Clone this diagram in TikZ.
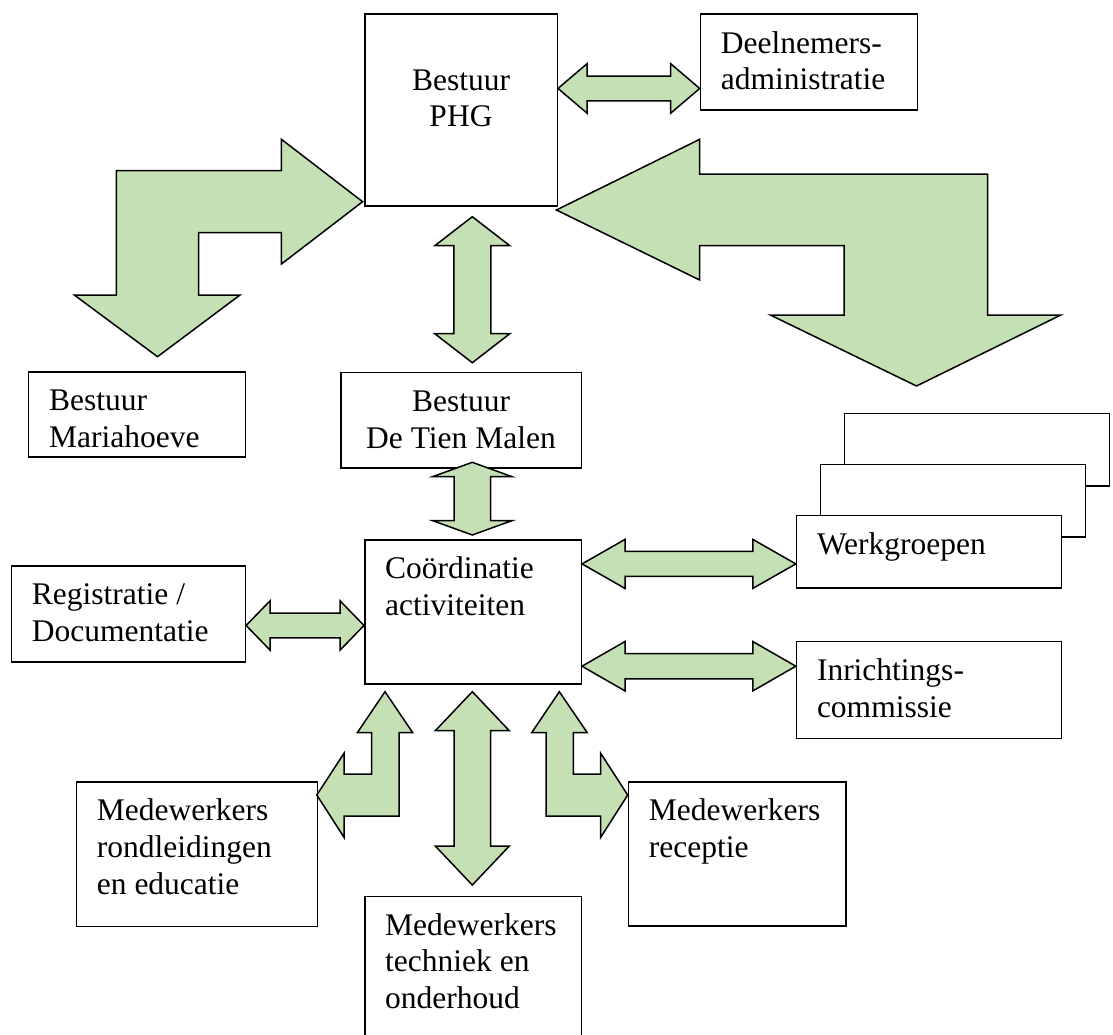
\documentclass[tikz,border=0pt]{standalone}
\usepackage{fontspec}
\setmainfont{Liberation Serif}
\usepackage{tikz}
\usetikzlibrary{calc}
\usetikzlibrary{positioning}
\definecolor{arrowgreen}{HTML}{C5E0B4}
\newcommand\lines[1]{\begin{tabular}[t]{@{}l@{}}#1\end{tabular}}
\newcommand\clines[1]{\begin{tabular}[t]{@{}c@{}}#1\end{tabular}}
% block arrow with a head at both ends: from, to, head length, head half width, shaft half width
\newcommand\dblarrow[5]{%
	\draw[blockarrow] (#1) -- ($(#1)!#3!(#2)!#4!90:(#2)$) -- ($(#1)!#3!(#2)!#5!90:(#2)$) --
		($(#2)!#3!(#1)!#5!-90:(#1)$) -- ($(#2)!#3!(#1)!#4!-90:(#1)$) -- (#2) --
		($(#2)!#3!(#1)!#4!90:(#1)$) -- ($(#2)!#3!(#1)!#5!90:(#1)$) --
		($(#1)!#3!(#2)!#5!-90:(#2)$) -- ($(#1)!#3!(#2)!#4!-90:(#2)$) -- cycle;}

\begin{document}
\begin{tikzpicture}[x=1pt, y=-1pt,
	box/.style={draw, line width=1.5pt, fill=white, inner sep=0, anchor=north west},
	txt/.style={inner sep=0, anchor=base west, font=\fontsize{31.5}{36.6}\selectfont},
	blockarrow/.style={draw, line width=1.5pt, fill=arrowgreen, line join=miter}]
	\useasboundingbox (0,0) rectangle (1113,1034);
	\clip (0,0) rectangle (1113,1034);

	\node[box, minimum width=192.5pt, minimum height=192pt] (phg) at (364,13.3) {};
	\node[box, minimum width=216.8pt, minimum height=96pt] (dln) at (699.7,13.3) {};
	\node[box, minimum width=216.7pt, minimum height=85pt] (mar) at (27.9,371) {};
	\node[box, minimum width=240.5pt, minimum height=95.3pt] (dtm) at (340,371.7) {};
	\node[box, minimum width=233.9pt, minimum height=96pt] (reg) at (10.7,565) {};
	\node[box, minimum width=216.5pt, minimum height=144.3pt] (coo) at (364,539) {};
	\node[box, minimum width=265pt, minimum height=72.4pt] (wg3) at (843.8,412.8) {};
	\node[box, minimum width=265pt, minimum height=72.4pt] (wg2) at (819.8,463.8) {};
	\node[box, minimum width=265pt, minimum height=72.4pt] (wg1) at (795.8,514.8) {};
	\node[box, minimum width=265pt, minimum height=96.9pt] (inr) at (795.8,640.9) {};
	\node[box, minimum width=241.1pt, minimum height=144.2pt] (ron) at (75.7,781.4) {};
	\node[box, minimum width=217.5pt, minimum height=144pt] (rec) at (627.7,781) {};
	\node[box, minimum width=216.5pt, minimum height=160pt] (tec) at (364,895.7) {};

	\node[txt, anchor=base] (phg-t) at ([yshift=-76.7pt]phg.north) {\clines{Bestuur\\PHG}};
	\node[txt] (dln-t) at ([shift={(21pt,-40pt)}]dln.north west) {\lines{Deelnemers-\\administratie}};
	\node[txt] (mar-t) at ([shift={(21pt,-39.5pt)}]mar.north west) {\lines{Bestuur\\Mariahoeve}};
	\node[txt, anchor=base] (dtm-t) at ([yshift=-40pt]dtm.north) {\clines{Bestuur\\De Tien Malen}};
	\node[txt] (reg-t) at ([shift={(21pt,-39.5pt)}]reg.north west) {\lines{Registratie /\\Documentatie}};
	\node[txt] (coo-t) at ([shift={(21pt,-39.5pt)}]coo.north west) {\lines{Coördinatie\\activiteiten}};
	\node[txt] (wg1-t) at ([shift={(21pt,-39.5pt)}]wg1.north west) {Werkgroepen};
	\node[txt] (inr-t) at ([shift={(21pt,-39.5pt)}]inr.north west) {\lines{Inrichtings-\\commissie}};
	\node[txt] (ron-t) at ([shift={(21pt,-39.5pt)}]ron.north west) {\lines{Medewerkers\\rondleidingen\\en educatie}};
	\node[txt] (rec-t) at ([shift={(21pt,-39.5pt)}]rec.north west) {\lines{Medewerkers\\receptie}};
	\node[txt] (tec-t) at ([shift={(21pt,-39.5pt)}]tec.north west) {\lines{Medewerkers\\techniek en\\onderhoud}};

	\coordinate (d1) at ([yshift=21.6pt]phg.east);
	\coordinate (d2) at (dln.west |- d1);
	\coordinate (p1) at (472.3,216.7);
	\coordinate (p2) at (472.3,362.7);
	\coordinate (t1) at (472.3,462.3);
	\coordinate (t2) at (472.3,535);
	\coordinate (r1) at ([yshift=-11.7pt]reg.east);
	\coordinate (r2) at (coo.west |- r1);
	\coordinate (w1) at ([yshift=48pt]coo.east);
	\coordinate (w2) at (wg1.west |- w1);
	\coordinate (i1) at ([yshift=-54.3pt]coo.east);
	\coordinate (i2) at (inr.west |- i1);
	\coordinate (m1) at (472.3,691.7);
	\coordinate (m2) at (472.3,885);

	\dblarrow{d1}{d2}{29pt}{24.7pt}{12.4pt}
	\dblarrow{p1}{p2}{29pt}{37.5pt}{18.5pt}
	\dblarrow{t1}{t2}{14.3pt}{39.5pt}{18.3pt}
	\dblarrow{r1}{r2}{24pt}{24.7pt}{12.3pt}
	\dblarrow{w1}{w2}{43pt}{24.5pt}{12.5pt}
	\dblarrow{i1}{i2}{43pt}{24.7pt}{12.6pt}
	\dblarrow{m1}{m2}{39pt}{37pt}{18.2pt}

	\draw[blockarrow] (362.6,201.7) -- (281.4,139.3) -- (281.4,170.7) -- (116.4,170.7) -- (116.4,295) --
		(74.3,295) -- (157.5,356.7) -- (240,295) -- (198.6,295) -- (198.6,232.7) -- (281.4,232.7) --
		(281.4,264) -- cycle;
	\draw[blockarrow] (556.4,210) -- (699.7,139.3) -- (699.7,174) -- (987.7,174) -- (987.7,315) --
		(1060.8,315) -- (916.5,386) -- (770.3,315) -- (844.1,315) -- (844.1,245.7) -- (699.7,245.7) --
		(699.7,280) -- cycle;
	\draw[blockarrow] (385,691.7) -- (412.7,732.7) -- (399,732.7) -- (399,816) -- (344,816) --
		(344,837.3) -- (316.8,795) -- (344,753.3) -- (344,774) -- (371.7,774) -- (371.7,732.7) --
		(357.3,732.7) -- cycle;
	\draw[blockarrow] (559.3,691.7) -- (587.3,732.7) -- (573.3,732.7) -- (573.3,774) -- (600.7,774) --
		(600.7,753.3) -- (627.7,795) -- (600.7,837.3) -- (600.7,816) -- (546,816) -- (546,732.7) --
		(531.7,732.7) -- cycle;
\end{tikzpicture}
\end{document}
